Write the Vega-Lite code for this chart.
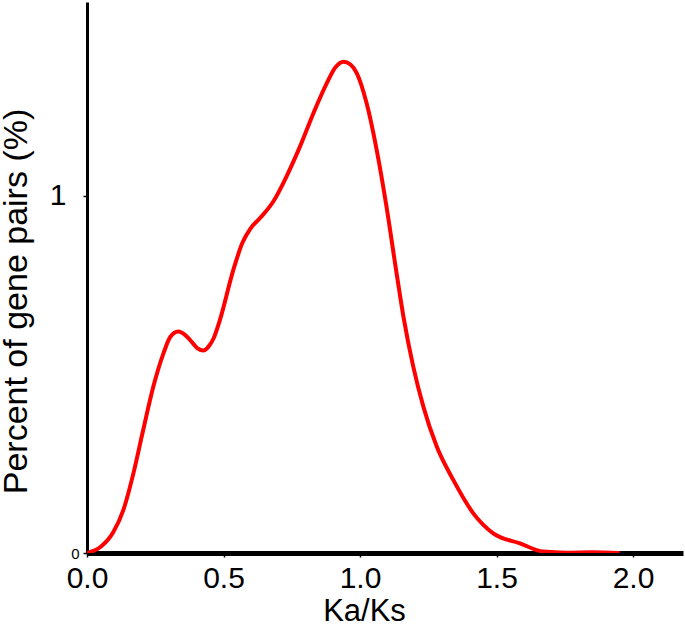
{
  "$schema": "https://vega.github.io/schema/vega-lite/v6.json",
  "width": 596,
  "height": 551,
  "autosize": "none",
  "padding": {"left": 87, "top": 2, "right": 2, "bottom": 79},
  "background": "white",
  "config": {
    "view": {"stroke": null},
    "font": "Liberation Sans",
    "axis": {"grid": false, "domainColor": "black", "tickColor": "black", "labelColor": "black", "titleColor": "black", "labelFont": "Liberation Sans", "titleFont": "Liberation Sans", "titleFontWeight": "normal"}
  },
  "data": {
    "values": [
      {"x": 0, "y": 0}, {"x": 0.048, "y": 0.016}, {"x": 0.096, "y": 0.058}, {"x": 0.133, "y": 0.12},
      {"x": 0.17, "y": 0.223}, {"x": 0.206, "y": 0.345}, {"x": 0.243, "y": 0.466}, {"x": 0.28, "y": 0.559},
      {"x": 0.305, "y": 0.605}, {"x": 0.334, "y": 0.62}, {"x": 0.36, "y": 0.61}, {"x": 0.377, "y": 0.597},
      {"x": 0.405, "y": 0.573}, {"x": 0.426, "y": 0.567}, {"x": 0.445, "y": 0.578}, {"x": 0.463, "y": 0.6},
      {"x": 0.487, "y": 0.653}, {"x": 0.536, "y": 0.793}, {"x": 0.57, "y": 0.87}, {"x": 0.6, "y": 0.91}, {"x": 0.634, "y": 0.938},
      {"x": 0.683, "y": 0.985}, {"x": 0.731, "y": 1.055}, {"x": 0.78, "y": 1.138}, {"x": 0.829, "y": 1.231},
      {"x": 0.878, "y": 1.315}, {"x": 0.91, "y": 1.36}, {"x": 0.939, "y": 1.376}, {"x": 0.965, "y": 1.368},
      {"x": 0.988, "y": 1.344}, {"x": 1.024, "y": 1.26}, {"x": 1.061, "y": 1.129}, {"x": 1.097, "y": 0.97},
      {"x": 1.134, "y": 0.783}, {"x": 1.159, "y": 0.662}, {"x": 1.195, "y": 0.522}, {"x": 1.232, "y": 0.41},
      {"x": 1.281, "y": 0.298}, {"x": 1.342, "y": 0.204}, {"x": 1.415, "y": 0.111}, {"x": 1.488, "y": 0.055},
      {"x": 1.586, "y": 0.027}, {"x": 1.671, "y": 0.004}, {"x": 1.757, "y": 0.001}, {"x": 1.85, "y": 0.002},
      {"x": 1.95, "y": 0.0}
    ]
  },
  "mark": {"type": "line", "color": "#ff0000", "strokeWidth": 4, "interpolate": "monotone", "clip": true},
  "encoding": {
    "x": {
      "field": "x", "type": "quantitative",
      "scale": {"domain": [0, 2.183], "nice": false, "zero": false},
      "axis": {
        "title": "Ka/Ks", "titleFontSize": 31, "titleX": 277, "titleY": 43, "titleAlign": "center", "titleBaseline": "top",
        "values": [0, 0.5, 1, 1.5, 2], "format": ".1f",
        "labelFontSize": 30, "labelPadding": 6, "tickSize": 4, "tickWidth": 1.5,
        "domainWidth": 5, "labelFlush": false, "labelOverlap": false
      }
    },
    "y": {
      "field": "y", "type": "quantitative",
      "scale": {"domain": [0, 1.543], "nice": false, "zero": false},
      "axis": {
        "title": "Percent of gene pairs (%)", "titleFontSize": 34, "titleX": -54, "titleY": 299, "titleAngle": -90, "titleAlign": "center", "titleBaseline": "bottom",
        "values": [0, 1], "format": "d",
        "labelFontSize": {"condition": {"test": "datum.value == 0", "value": 15}, "value": 30},
        "labelPadding": {"condition": {"test": "datum.value == 0", "value": 4}, "value": 17},
        "tickSize": 4, "tickWidth": 1.5, "domainWidth": 3, "labelFlush": false, "labelOverlap": false
      }
    }
  }
}
